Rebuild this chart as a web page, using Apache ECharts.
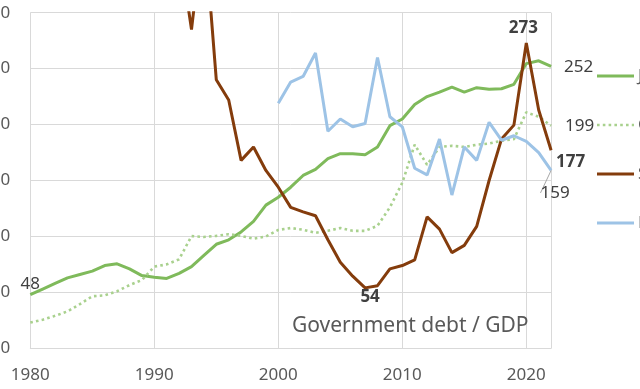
<!DOCTYPE html>
<html>
<head>
<meta charset="utf-8">
<script src="https://cdn.jsdelivr.net/npm/echarts@6/dist/echarts.min.js"></script>
<style>html,body{margin:0;padding:0;background:#fff;}#c{width:640px;height:389px;}</style>
</head>
<body>
<div id="c"></div>
<script>
const years = [];
for (let y = 1980; y <= 2022; y++) years.push(y);

const seriesNames = ['Japan', 'Greece', 'Sudan', 'Eritrea'];

const japan = [48, 53, 58, 63, 66, 69, 74, 75.5, 71, 65,
  63.5, 62.5, 67, 73, 83, 93, 97, 104, 113.5, 128,
  135, 144, 154.5, 160, 169.5, 174, 174, 173, 180, 199,
  205, 218, 225, 229, 233.5, 229, 233, 231.5, 232, 236,
  254.5, 257, 252];

const greece = [23, 25.5, 29, 33, 39.5, 46.5, 47.3, 51, 56.5, 61,
  73, 75, 79.5, 100.3, 99.5, 100.5, 102, 100.5, 98, 100,
  105.8, 107.5, 106, 103.2, 105, 107.5, 105, 105, 109.5, 126,
  148, 182, 164, 180, 181, 180, 182, 183, 185.5, 187,
  211, 207, 199];

const sudan = [null, null, null, null, null, null, null, null, null, null,
  null, null, 360, 285, 380, 240, 222, 168, 180, 159,
  144, 126, 122, 118.5, 97, 77, 64.5, 54, 56, 71,
  74, 79, 117.5, 106.5, 85.5, 92, 109, 150, 187, 199.5,
  273, 213, 177];

const eritrea = [null, null, null, null, null, null, null, null, null, null,
  null, null, null, null, null, null, null, null, null, null,
  219, 238, 243, 264, 194, 205, 198, 201, 260, 207,
  198, 161, 155, 187, 137, 180, 168, 202, 186, 190,
  185, 175, 159];

const xTicks = [1980, 1990, 2000, 2010, 2020];
const yTicks = [0, 50, 100, 150, 200, 250, 300];
const chartTitle = 'Government debt / GDP';

const FONT = '"Noto Sans", "Open Sans", sans-serif';
const TXT = '#404040';
const GREY = '#595959';

const lineStyles = [
  { color: '#7fba5b', width: 3 },
  { color: '#a9d18e', width: 2.6, type: [2.6, 3.2] },
  { color: '#843c0c', width: 3 },
  { color: '#9dc3e6', width: 3 }
];

function build(values, labels) {
  return values.map((v, i) => {
    const item = { value: [years[i], v] };
    if (labels[i]) {
      item.symbol = 'circle';
      item.symbolSize = 0;
      item.label = Object.assign({
        show: true, fontFamily: FONT, fontSize: 17, color: TXT,
        formatter: (p) => String(Math.round(p.value[1]))
      }, labels[i]);
    }
    return item;
  });
}

const last = years.length - 1;
const idx = (y) => years.indexOf(y);

const japanLabels = {};
japanLabels[0] = { position: 'top', distance: 2, offset: [0, 0] };
japanLabels[last] = { position: 'right', distance: 13, offset: [0, 1] };

const greeceLabels = {};
greeceLabels[last] = { position: 'right', distance: 14, offset: [0, 0] };

const sudanLabels = {};
sudanLabels[idx(2020)] = { position: 'top', distance: 6, offset: [-3, 0], fontWeight: 'bold' };
sudanLabels[idx(2007)] = { position: 'bottom', distance: 1, offset: [5, 0], fontWeight: 'bold' };
sudanLabels[last] = { position: 'right', distance: 5, offset: [0, 12], fontWeight: 'bold' };

const eritreaLabels = {};
eritreaLabels[last] = { position: 'bottom', distance: 0 };

const allLabels = [japanLabels, greeceLabels, sudanLabels, eritreaLabels];
const allValues = [japan, greece, sudan, eritrea];

// legend drawn as graphic elements (text runs off the right edge like the reference)
const legendTop = 76, legendStep = 49;
const legendGraphics = [];
seriesNames.forEach((name, i) => {
  const y = legendTop + i * legendStep;
  const ls = lineStyles[i];
  legendGraphics.push({
    type: 'line', silent: true,
    shape: { x1: 597, y1: y, x2: 634, y2: y },
    style: { stroke: ls.color, lineWidth: ls.width, lineDash: ls.type || null }
  });
  legendGraphics.push({
    type: 'text', silent: true, x: 638, y: y,
    style: { text: name, fontFamily: FONT, fontSize: 17, fill: GREY, verticalAlign: 'middle', align: 'left' }
  });
});

const chart = echarts.init(document.getElementById('c'), null, { renderer: 'canvas' });

chart.setOption({
  animation: false,
  backgroundColor: '#ffffff',
  textStyle: { fontFamily: FONT },
  title: {
    text: chartTitle,
    left: 292, top: 316, padding: 0,
    textStyle: { fontFamily: FONT, fontSize: 21, fontWeight: 'normal', color: GREY }
  },
  grid: { left: 30.3, right: 88.9, top: 12.7, bottom: 40.7, containLabel: false, outerBoundsMode: 'none' },
  graphic: legendGraphics,
  xAxis: {
    type: 'value', min: xTicks[0], max: 2022, interval: 10,
    axisLine: { show: true, lineStyle: { color: '#d9d9d9', width: 1 } },
    axisTick: { show: false },
    splitLine: { show: true, lineStyle: { color: '#d9d9d9', width: 1 } },
    axisLabel: {
      fontFamily: FONT, fontSize: 17, color: GREY, margin: 18,
      showMaxLabel: false,
      formatter: (v) => xTicks.indexOf(v) >= 0 ? String(v) : ''
    }
  },
  yAxis: {
    type: 'value', min: yTicks[0], max: yTicks[yTicks.length - 1], interval: 50,
    axisLine: { show: false }, axisTick: { show: false },
    splitLine: { show: true, lineStyle: { color: '#d9d9d9', width: 1 } },
    axisLabel: { fontFamily: FONT, fontSize: 17, color: GREY, margin: 20, align: 'right' }
  },
  series: seriesNames.map((name, i) => {
    const s = {
      type: 'line', name: name, symbol: 'none', showSymbol: true, clip: true,
      data: build(allValues[i], allLabels[i]),
      lineStyle: lineStyles[i], itemStyle: { color: lineStyles[i].color }
    };
    if (i === 3) {
      s.labelLine = { show: true, lineStyle: { color: '#a6a6a6', width: 1 } };
      s.labelLayout = (p) => (p.dataIndex === last ? { dx: 4, dy: 14 } : {});
    }
    return s;
  })
});
</script>
</body>
</html>
